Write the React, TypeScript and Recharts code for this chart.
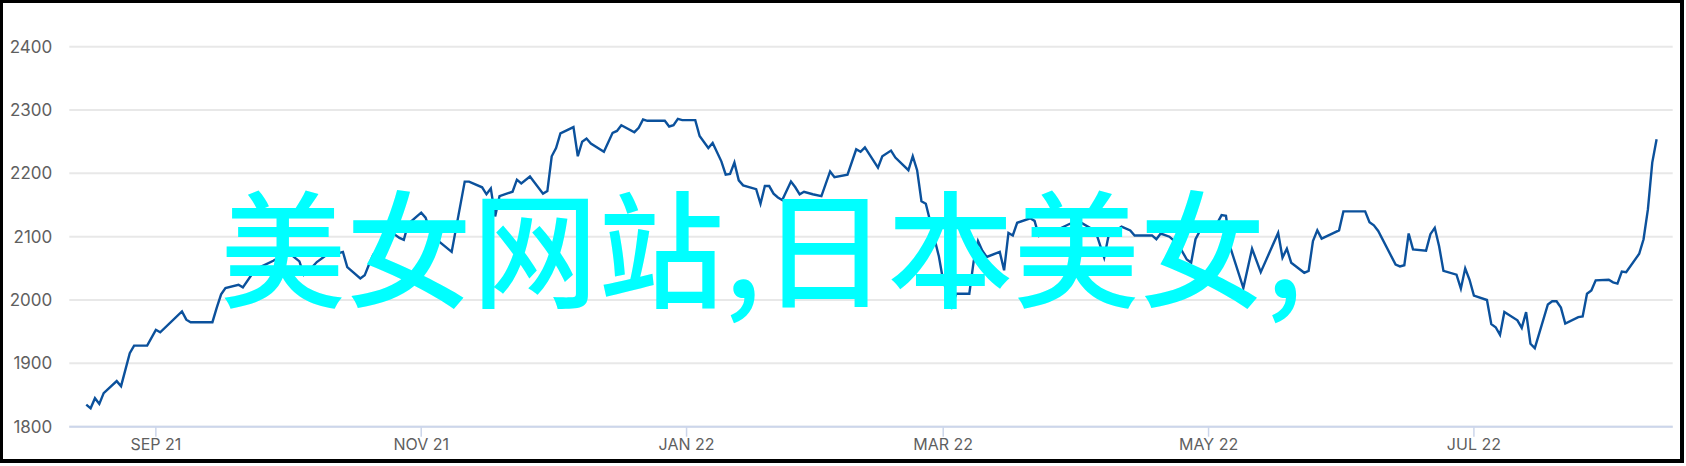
import React from "react";
import { LineChart, Line, XAxis, YAxis, CartesianGrid } from "recharts";

// x = days since 2021-09-01, y = index level
const days: number[] = [
  -16, -15, -14, -13, -12, -9, -8, -6, -5, -2, 0, 1, 6, 7, 8, 13, 14, 15, 16, 19,
  20, 22, 24, 27, 29, 31, 33, 34, 35, 37, 40, 42, 43, 44, 47, 48, 49, 50, 53, 54,
  56, 57, 58, 60, 61, 62, 63, 65, 68, 71, 72, 75, 76, 77, 78, 79, 82, 83, 84, 86,
  89, 90, 91, 92, 93, 96, 97, 98, 99, 100, 103, 105, 106, 107, 110, 111, 112, 113, 117, 118,
  119, 120, 121, 124, 125, 127, 128, 130, 131, 132, 133, 134, 135, 138, 139, 140, 141, 142, 143, 144,
  146, 147, 148, 149, 151, 153, 155, 156, 159, 161, 162, 163, 166, 167, 169, 170, 173, 174, 175, 176,
  177, 180, 181, 183, 184, 187, 188, 189, 190, 191, 194, 195, 196, 197, 198, 201, 202, 203, 207, 210,
  212, 216, 218, 219, 222, 224, 225, 229, 230, 231, 233, 235, 237, 238, 239, 240, 243, 245, 246, 247,
  250, 252, 254, 258, 259, 260, 261, 264, 265, 266, 267, 268, 272, 273, 278, 279, 280, 281, 285, 286,
  287, 288, 289, 292, 293, 294, 295, 296, 299, 300, 301, 302, 303, 306, 307, 308, 309, 310, 313, 314,
  315, 316, 317, 320, 321, 322, 323, 324, 327, 328, 329, 330, 331, 334, 335, 336, 337, 338, 341, 342,
  343, 344, 345,
];

const values: number[] = [
  1835, 1829, 1845, 1836, 1853, 1872, 1864, 1916, 1928, 1928, 1953, 1949, 1982, 1969, 1965, 1965, 1988, 2009, 2019, 2024,
  2020, 2040, 2052, 2062, 2070, 2072, 2061, 2040, 2045, 2060, 2075, 2074, 2076, 2052, 2034, 2039, 2056, 2072, 2088, 2108,
  2098, 2095, 2120, 2132, 2138, 2130, 2110, 2093, 2076, 2187, 2187, 2178, 2167, 2176, 2132, 2164, 2171, 2190, 2184, 2195,
  2168, 2172, 2227, 2240, 2263, 2273, 2227, 2250, 2255, 2247, 2234, 2264, 2267, 2276, 2265, 2272, 2285, 2283, 2283, 2274,
  2276, 2286, 2284, 2284, 2259, 2240, 2248, 2219, 2198, 2199, 2217, 2189, 2181, 2175, 2152, 2180, 2180, 2168, 2162, 2158,
  2187, 2178, 2167, 2171, 2167, 2164, 2203, 2194, 2198, 2238, 2234, 2241, 2209, 2227, 2236, 2225, 2205, 2227, 2205, 2156,
  2152, 2069, 2030, 1990, 2010, 2010, 2061, 2093, 2078, 2068, 2076, 2047, 2106, 2102, 2122, 2129, 2125, 2101, 2110, 2120,
  2125, 2109, 2067, 2101, 2116, 2110, 2102, 2102, 2096, 2105, 2100, 2088, 2064, 2059, 2096, 2109, 2109, 2134, 2133, 2083,
  2019, 2081, 2044, 2106, 2067, 2081, 2059, 2043, 2046, 2093, 2110, 2097, 2110, 2140, 2140, 2123, 2118, 2109, 2056, 2053,
  2055, 2105, 2080, 2078, 2104, 2114, 2085, 2046, 2040, 2018, 2050, 2032, 2007, 2000, 1962, 1957, 1945, 1981, 1968, 1956,
  1981, 1931, 1924, 1993, 1998, 1998, 1988, 1963, 1973, 1974, 2010, 2015, 2031, 2032, 2028, 2026, 2045, 2044, 2073, 2096,
  2143, 2217, 2254,
];

const tickDays: number[] = [0, 61, 122, 181, 242, 303];
const tickLabels: string[] = ["SEP 21", "NOV 21", "JAN 22", "MAR 22", "MAY 22", "JUL 22"];
const yTicks: number[] = [1800, 1900, 2000, 2100, 2200, 2300, 2400];
const overlayText = "美女网站,日本美女,";

const data = days.map((t, i) => ({ t, v: values[i] }));

const labelFor = (t: number) => {
  const i = tickDays.indexOf(t);
  return i >= 0 ? tickLabels[i] : "";
};

export default function App() {
  return (
    <div
      style={{
        position: "absolute",
        left: 0,
        top: 0,
        width: 1686,
        height: 466,
        background: "#ffffff",
        overflow: "hidden",
      }}
    >
      <LineChart
        width={1686}
        height={466}
        data={data}
        margin={{ top: 46.7, right: 13.3, bottom: 0, left: 0 }}
      >
        <CartesianGrid vertical={false} stroke="#e8e8e8" strokeWidth={2} />
        <XAxis
          type="number"
          dataKey="t"
          domain={[-19.9, 348.7]}
          ticks={tickDays}
          interval={0}
          tickFormatter={labelFor}
          height={39.3}
          axisLine={{ stroke: "#ccd6eb", strokeWidth: 2 }}
          tickLine={{ stroke: "#ccd6eb", strokeWidth: 1.5 }}
          tickSize={10}
          tickMargin={2}
          tick={{ fill: "#5f5f5f", fontSize: 16, fontFamily: "Inter, 'Open Sans', sans-serif" }}
        />
        <YAxis
          type="number"
          domain={[1800, 2400]}
          ticks={yTicks}
          interval={0}
          width={69.3}
          axisLine={false}
          tickLine={false}
          tickSize={0}
          tickMargin={17}
          tick={{ fill: "#5f5f5f", fontSize: 17, fontFamily: "Inter, 'Open Sans', sans-serif" }}
        />
        <Line
          type="linear"
          dataKey="v"
          stroke="#0b519c"
          strokeWidth={2.4}
          dot={false}
          activeDot={false}
          isAnimationActive={false}
        />
      </LineChart>
      <svg
        width={1686}
        height={466}
        style={{ position: "absolute", left: 0, top: 0, pointerEvents: "none" }}
      >
        <text
          x={220}
          y={298}
          fill="#00ffff"
          fontSize={126}
          fontWeight={500}
          fontFamily="'Noto Sans CJK SC', 'Noto Sans CJK JP', sans-serif"
        >
          {overlayText}
        </text>
      </svg>
      <div
        style={{
          position: "absolute",
          left: 0,
          top: 0,
          width: 1684,
          height: 463,
          boxSizing: "border-box",
          borderLeft: "3px solid #000",
          borderTop: "3px solid #000",
          borderRight: "4px solid #000",
          borderBottom: "4px solid #000",
          pointerEvents: "none",
        }}
      />
    </div>
  );
}
